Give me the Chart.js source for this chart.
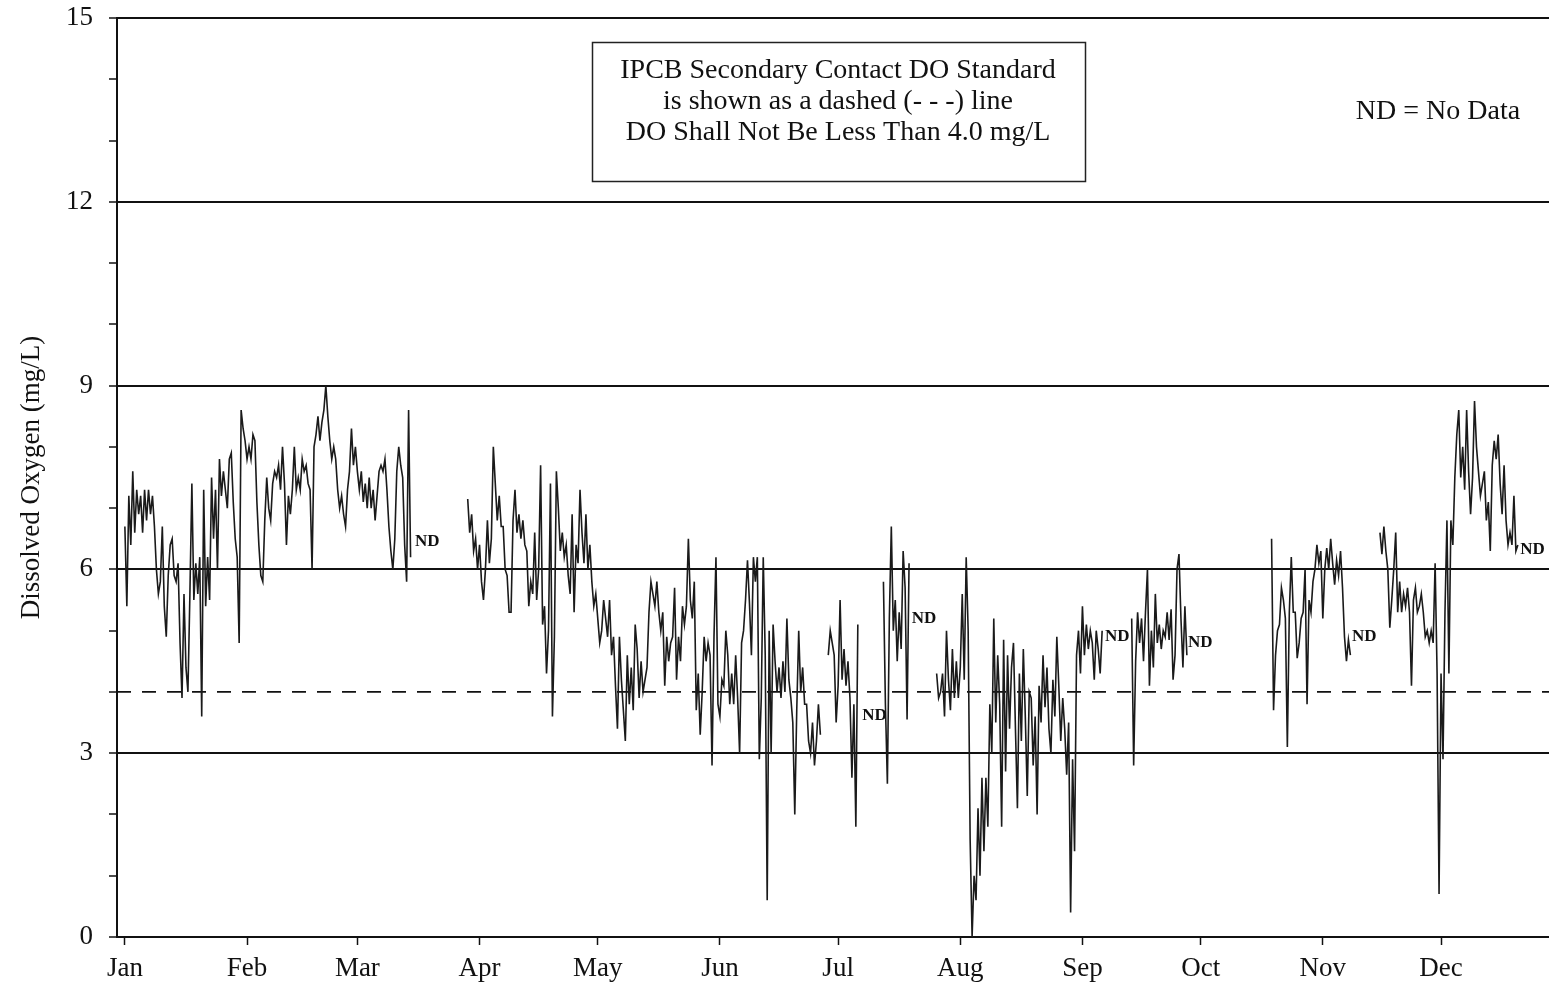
<!DOCTYPE html>
<html>
<head>
<meta charset="utf-8">
<script src="https://cdn.jsdelivr.net/npm/chart.js@4.4.1/dist/chart.umd.min.js"></script>
<style>
  html, body { margin: 0; padding: 0; background: #fff; }
  #wrap { width: 1549px; height: 982px; }
</style>
</head>
<body>
<div id="wrap"><canvas id="chart" width="1549" height="982"></canvas></div>
<script>
// month axis (day of year, 0 = Jan 1)
const MONTHS = ["Jan", "Feb", "Mar", "Apr", "May", "Jun", "Jul", "Aug", "Sep", "Oct", "Nov", "Dec"];
const MONTH_START_DAYS = [0, 31, 59, 90, 120, 151, 181, 212, 243, 273, 304, 334];
const Y_LABELS = [0, 3, 6, 9, 12, 15];
const DO_STANDARD = 4.0;
const X_MIN = -2;
const X_MAX = 361.4;

// DO readings, two per day (half-day step), one array per stretch of record
const STEP = 0.5;
const janMar = [6.7,5.4, 7.2,6.4, 7.6,6.6, 7.3,6.9, 7.2,6.6, 7.3,6.8, 7.3,6.9, 7.2,6.7, 6.0,5.6, 5.8,6.7,
  5.4,4.9, 5.9,6.4, 6.5,5.9, 5.8,6.1, 4.8,3.9, 5.6,4.4, 4.0,5.6, 7.4,5.5, 6.1,5.6, 6.2,3.6,
  7.3,5.4, 6.2,5.5, 7.5,6.5, 7.3,6.0, 7.8,7.2, 7.6,7.3, 7.0,7.8, 7.9,7.1, 6.5,6.2, 4.8,8.6,
  8.3,8.1, 7.8,8.0, 7.8,8.2, 8.1,7.1, 6.4,5.9, 5.8,6.8, 7.5,7.0, 6.8,7.4, 7.6,7.5, 7.7,7.3,
  8.0,7.4, 6.4,7.2, 6.9,7.3, 8.0,7.3, 7.5,7.3, 7.8,7.6, 7.7,7.4, 7.3,6.0, 8.0,8.2, 8.5,8.1,
  8.4,8.6, 9.0,8.5, 8.1,7.8, 8.0,7.8, 7.3,7.0, 7.2,6.9, 6.7,7.3, 7.6,8.3, 7.7,8.0, 7.6,7.3,
  7.6,7.1, 7.4,7.0, 7.5,7.0, 7.3,6.8, 7.2,7.6, 7.7,7.6, 7.8,7.3, 6.7,6.3, 6.0,6.5, 7.6,8.0,
  7.7,7.5, 6.4,5.8, 8.6,6.2];
const aprJun = [7.15,6.6, 6.9,6.3, 6.5,6.0, 6.4,5.8, 5.5,6.0, 6.8,6.1, 6.5,8.0, 7.4,6.8, 7.2,6.7, 6.7,6.0,
  5.9,5.3, 5.3,6.8, 7.3,6.6, 6.9,6.5, 6.8,6.4, 6.3,5.4, 5.8,5.6, 6.6,5.5, 6.0,7.7, 5.1,5.4,
  4.3,5.0, 7.4,3.6, 4.9,7.6, 7.0,6.3, 6.6,6.2, 6.4,5.9, 5.6,6.9, 5.3,6.4, 6.1,7.3, 6.6,6.1,
  6.9,6.0, 6.4,5.8, 5.4,5.6, 5.2,4.8, 5.0,5.5, 5.2,4.9, 5.5,4.6, 4.9,4.1, 3.4,4.9, 4.2,3.7,
  3.2,4.6, 3.8,4.4, 3.7,5.1, 4.7,3.9, 4.5,4.0, 4.2,4.4, 5.3,5.8, 5.6,5.4, 5.8,5.3, 5.0,5.3,
  4.1,4.9, 4.5,4.8, 4.9,5.7, 4.2,4.9, 4.5,5.4, 5.1,5.4, 6.5,5.5, 5.2,5.8, 3.7,4.3, 3.3,4.0,
  4.9,4.5, 4.8,4.6, 2.8,4.9, 6.2,3.8, 3.6,4.2, 4.1,5.0, 4.6,3.8, 4.3,3.8, 4.6,3.9, 3.0,4.8,
  5.0,5.5, 6.15,5.45, 4.6,6.2, 5.8,6.2, 2.9,3.9, 6.2,4.6, 0.6,5.0, 3.0,5.1, 4.5,4.0, 4.4,3.9,
  4.5,4.0, 5.2,4.2, 3.9,3.5, 2.0,3.7, 5.0,4.0, 4.4,3.8, 3.8,3.2, 3.0,3.5, 2.8,3.2, 3.8,3.3];
const julEarly = [4.6,5.0, 4.8,4.6, 3.5,4.1, 5.5,4.2, 4.7,4.1, 4.5,3.9, 2.6,3.8, 1.8,5.1];
const julMid = [5.8,3.8, 2.5,5.2, 6.7,5.0, 5.5,4.5, 5.3,4.7, 6.3,5.7, 3.55,6.1];
const julSep = [4.3,3.9, 4.0,4.3, 3.6,5.0, 4.2,3.7, 4.7,3.9, 4.5,3.9, 4.4,5.6, 4.2,6.2, 5.0,1.6, 0.0,1.0,
  0.6,2.1, 1.0,2.6, 1.4,2.6, 1.8,3.8, 3.0,5.2, 3.5,4.6, 3.8,1.8, 4.85,2.7, 4.6,3.4, 4.4,4.8,
  3.4,2.1, 4.3,3.2, 4.7,3.6, 2.3,4.0, 3.9,2.8, 3.6,2.0, 4.1,3.5, 4.6,3.75, 4.4,3.4, 3.0,4.2,
  3.6,4.9, 4.1,3.2, 3.9,3.4, 2.65,3.5, 0.4,2.9, 1.4,4.6, 5.0,4.3, 5.4,4.6, 5.1,4.7, 5.0,4.8,
  4.2,5.0, 4.7,4.3, 5.0];
const sepLate = [5.2,2.8, 4.5,5.3, 4.8,5.2, 4.5,5.3, 6.0,4.1, 5.0,4.4, 5.6,4.8, 5.1,4.7, 5.0,4.9, 5.3,4.85,
  5.35,4.2, 4.6,6.0, 6.25,5.2, 4.4,5.4, 4.6];
const octNov = [6.5,3.7, 4.6,5.0, 5.1,5.7, 5.5,5.2, 3.1,5.3, 6.2,5.3, 5.3,4.55, 4.8,5.2, 5.3,6.0, 3.8,5.5,
  5.3,5.8, 6.0,6.4, 6.1,6.3, 5.2,6.0, 6.35,6.0, 6.5,6.1, 5.75,6.15, 5.9,6.3, 5.7,4.9, 4.5,4.85, 4.6];
const novDec = [6.6,6.25, 6.7,6.3, 6.0,5.05, 5.5,6.0, 6.6,5.3, 5.8,5.3, 5.6,5.4, 5.7,5.3, 4.1,5.5, 5.7,5.3,
  5.4,5.6, 5.3,4.9, 5.0,4.8, 5.0,4.8, 6.1,4.3, 0.7,4.3, 2.9,5.3, 6.8,4.3, 6.8,6.4, 7.5,8.2,
  8.6,7.5, 8.0,7.3, 8.6,7.6, 6.9,7.5, 8.75,8.0, 7.6,7.2, 7.4,7.6, 6.8,7.1, 6.3,7.7, 8.1,7.8,
  8.2,7.4, 6.9,7.7, 6.8,6.4, 6.6,6.4, 7.2,6.3, 6.4];

const segmentStarts = [0, 87, 178.5, 192.5, 206, 255.5, 291, 318.5];
const segmentValues = [janMar, aprJun, julEarly, julMid, julSep, sepLate, octNov, novDec];

// where the "ND" marks sit (day, mg/L)
const ND_SPOTS = [[73.6, 6.46], [187.1, 3.61], [199.7, 5.19], [248.7, 4.9], [269.8, 4.81], [311.4, 4.91], [354.1, 6.32]];

const doPoints = [];
segmentValues.forEach((vals, s) => {
  vals.forEach((v, i) => doPoints.push({ x: segmentStarts[s] + i * STEP, y: v }));
  doPoints.push({ x: segmentStarts[s] + vals.length * STEP, y: null });
});

const SERIF = "'Liberation Serif', 'Times New Roman', serif";
const INK = "#111";

const notes = {
  id: "notes",
  afterDraw(chart) {
    const { ctx, scales } = chart;
    ctx.save();
    ctx.strokeStyle = "#222";
    ctx.lineWidth = 1.5;
    ctx.strokeRect(592.5, 42.5, 493, 139);
    ctx.fillStyle = INK;
    ctx.textAlign = "center";
    ctx.textBaseline = "middle";
    ctx.font = "28px " + SERIF;
    ["IPCB Secondary Contact DO Standard",
     "is shown as a dashed (- - -) line",
     "DO Shall Not Be Less Than 4.0 mg/L"].forEach((t, i) => ctx.fillText(t, 838, 71 + i * 31));
    ctx.fillText("ND = No Data", 1438, 112);

    ctx.textAlign = "left";
    ctx.font = "bold 17px " + SERIF;
    ND_SPOTS.forEach(([d, v]) => {
      ctx.fillText("ND", scales.x.getPixelForValue(d), scales.y.getPixelForValue(v));
    });
    ctx.restore();
  }
};

new Chart(document.getElementById("chart"), {
  type: "line",
  data: {
    datasets: [
      {
        label: "Dissolved Oxygen",
        data: doPoints,
        borderColor: "#1a1a1a",
        borderWidth: 1.6,
        pointRadius: 0,
        tension: 0,
        spanGaps: false,
      },
      {
        label: "DO Standard",
        data: [{ x: X_MIN, y: DO_STANDARD }, { x: X_MAX, y: DO_STANDARD }],
        borderColor: "#111",
        borderWidth: 1.8,
        borderDash: [14, 11],
        pointRadius: 0,
      },
    ],
  },
  options: {
    responsive: false,
    animation: false,
    layout: { padding: { top: 18, left: 0, right: 0, bottom: 0 } },
    plugins: { legend: { display: false }, tooltip: { enabled: false } },
    scales: {
      x: {
        type: "linear",
        min: X_MIN,
        max: X_MAX,
        afterBuildTicks: (s) => { s.ticks = MONTH_START_DAYS.map((v) => ({ value: v })); },
        afterFit: (s) => { s.height = 45; },
        ticks: {
          autoSkip: false,
          maxRotation: 0,
          padding: 8,
          color: INK,
          font: { family: SERIF, size: 27 },
          callback: (v) => MONTHS[MONTH_START_DAYS.indexOf(v)],
        },
        grid: { drawOnChartArea: false, drawTicks: true, tickLength: 8, tickColor: INK, tickWidth: 1.5 },
        border: { display: true, color: INK, width: 2 },
      },
      y: {
        min: 0,
        max: 15,
        afterFit: (s) => { s.width = 117; s.paddingTop = 0; s.paddingBottom = 0; },
        ticks: {
          stepSize: 1,
          padding: 16,
          color: INK,
          font: { family: SERIF, size: 27 },
          callback: (v) => (Y_LABELS.includes(v) ? String(v) : ""),
        },
        grid: {
          color: (c) => (c.tick && c.tick.value > 0 && c.tick.value % 3 === 0 ? INK : "rgba(0,0,0,0)"),
          lineWidth: 2,
          tickColor: INK,
          tickLength: 8,
          tickWidth: 1.5,
        },
        border: { color: INK, width: 2 },
        title: {
          display: true,
          text: "Dissolved Oxygen (mg/L)",
          color: INK,
          font: { family: SERIF, size: 27 },
          padding: { top: 16, bottom: 0 },
        },
      },
    },
  },
  plugins: [notes],
});
</script>
</body>
</html>
